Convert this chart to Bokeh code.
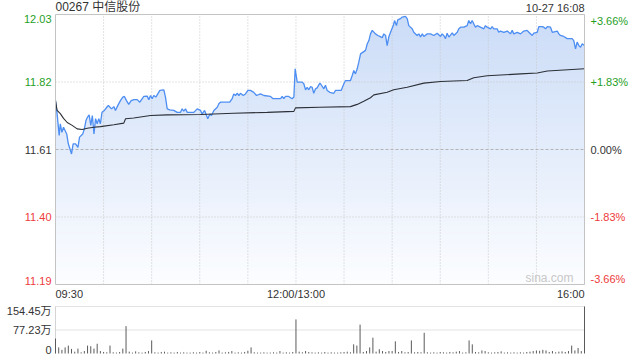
import numpy as np
from bokeh.plotting import figure
from bokeh.models import Range1d
from bokeh.embed import file_html
from bokeh.resources import INLINE
from bokeh.core.properties import value

# ---------------- data ----------------
title_text = "00267 中信股份"
stamp_text = "10-27 16:08"
prev_close = 11.61
price_lo, price_hi = 11.185, 12.035
session_end = 330          # minutes of trading, 09:30-12:00 + 13:00-16:00

# minutes since 09:30 (lunch break removed), price in HKD
price_t = [0, 1, 2.3, 3, 4, 5, 7, 8, 10, 11,
           12.5, 14, 15, 17, 18, 19, 20, 21, 22, 23,
           24, 25, 26, 27, 28, 29, 30.5, 32, 33, 34,
           35, 36.4, 37.4, 38.9, 40.5, 42, 43, 44.3, 45.7, 47.2,
           48.9, 51, 52.6, 54.1, 55.1, 57.2, 58.2, 59.3, 60.3, 61.3,
           62.6, 63.8, 65.1, 67.6, 68.6, 69.7, 71.3, 73.8, 75.9, 78,
           79, 80, 81.1, 82.2, 84.2, 86.3, 88.4, 90.5, 91.5, 93,
           94.2, 95, 96.3, 97.3, 98.8, 100.9, 101.9, 102.9, 108.7, 110.2,
           111.2, 112.3, 113.3, 114.4, 115.4, 117.1, 118.5, 120, 121.6, 123.7,
           125.4, 127.9, 130, 134.1, 135.8, 140.4, 141.4, 142.4, 143.5, 145.5,
           147.6, 148.7, 149.5, 150.8, 153.9, 154.9, 156, 157, 158, 159.1,
           160.1, 161.1, 162.2, 163.2, 164.9, 165.3, 167.4, 168.4, 169.5, 171.1,
           173.6, 174.7, 178.2, 179.9, 180.9, 184, 185.1, 186.1, 187.1, 188.2,
           189.2, 190.3, 193.4, 194.5, 195.5, 196.5, 197.6, 199.6, 201.1, 202.3,
           203.8, 204.8, 205.9, 206.9, 207.9, 209, 210.7, 211.5, 212.7, 213.5,
           215.2, 216.3, 218.3, 219.4, 220.4, 222.5, 223.5, 225.6, 226.7, 227.7,
           228.8, 229.8, 231.9, 233.9, 236, 238.1, 240.2, 241.2, 242.2, 243.3,
           244.3, 245.4, 247.5, 248.5, 250.6, 251.6, 252.7, 254.7, 256.8, 257.8,
           258.9, 259.9, 260.9, 262, 263.1, 265.1, 267.2, 268.2, 269.3, 271.4,
           272.4, 273.4, 275.5, 276.5, 277.6, 279.7, 281.8, 283.8, 284.9, 285.9,
           288, 290.1, 292.1, 294.2, 295.3, 297.4, 298.4, 300.5, 301.5, 303.6,
           304.6, 305.7, 306.8, 308.8, 309.9, 313, 314, 315, 317.1, 319.2,
           322.3, 323.3, 324.4, 325.4, 326.5, 327.5, 328.6, 330]
price_v = [11.764, 11.722, 11.654, 11.691, 11.664, 11.680, 11.659, 11.628, 11.596, 11.628,
           11.628, 11.617, 11.649, 11.659, 11.675, 11.701, 11.712, 11.719, 11.686, 11.717,
           11.659, 11.707, 11.691, 11.707, 11.691, 11.727, 11.733, 11.743, 11.749, 11.743,
           11.738, 11.745, 11.733, 11.749, 11.764, 11.775, 11.777, 11.764, 11.752, 11.764,
           11.767, 11.767, 11.759, 11.770, 11.777, 11.778, 11.767, 11.780, 11.770, 11.780,
           11.775, 11.785, 11.796, 11.798, 11.775, 11.738, 11.735, 11.733, 11.727, 11.727,
           11.738, 11.731, 11.738, 11.727, 11.727, 11.727, 11.738, 11.733, 11.722, 11.733,
           11.717, 11.707, 11.722, 11.717, 11.733, 11.743, 11.754, 11.759, 11.759, 11.770,
           11.785, 11.780, 11.787, 11.780, 11.787, 11.780, 11.785, 11.796, 11.796, 11.790,
           11.780, 11.785, 11.780, 11.777, 11.770, 11.770, 11.777, 11.770, 11.777, 11.777,
           11.770, 11.775, 11.864, 11.822, 11.822, 11.817, 11.798, 11.806, 11.798, 11.808,
           11.806, 11.787, 11.801, 11.804, 11.819, 11.817, 11.801, 11.812, 11.796, 11.790,
           11.787, 11.796, 11.796, 11.817, 11.827, 11.827, 11.843, 11.859, 11.848, 11.864,
           11.885, 11.911, 11.922, 11.943, 11.953, 11.974, 11.985, 11.974, 11.969, 11.966,
           11.962, 11.974, 11.969, 11.937, 11.964, 11.979, 12.000, 12.016, 12.000, 12.018,
           12.022, 12.027, 12.029, 12.022, 12.000, 11.990, 11.979, 11.969, 11.974, 11.964,
           11.974, 11.966, 11.974, 11.974, 11.969, 11.976, 11.966, 11.974, 11.969, 11.959,
           11.976, 11.964, 11.977, 11.969, 11.979, 11.990, 11.995, 11.995, 12.000, 12.016,
           12.006, 12.016, 12.006, 11.995, 12.000, 11.995, 11.990, 12.000, 11.995, 11.990,
           11.997, 11.990, 11.990, 11.979, 11.983, 11.979, 11.983, 11.974, 11.985, 11.974,
           11.979, 11.974, 11.983, 11.985, 11.979, 11.969, 11.976, 11.979, 11.997, 11.997,
           11.995, 11.990, 11.997, 11.995, 11.979, 11.983, 11.974, 11.969, 11.966, 11.959,
           11.959, 11.953, 11.927, 11.948, 11.937, 11.932, 11.943, 11.937]

avg_t = [0, 1, 3, 5, 7.3, 10.4, 13.5, 16.7, 19.8, 23.9,
         28.1, 36.4, 42.6, 43.7, 48.8, 59.3, 69.7, 90.5, 111.2, 132.1,
         148.7, 149.7, 164.9, 184, 188.2, 192.3, 196.5, 198.6, 206.9, 211,
         219.4, 229.8, 240.2, 256.8, 260.9, 269.3, 290.1, 300.5, 306.8, 330]
avg_v = [11.764, 11.733, 11.723, 11.708, 11.695, 11.686, 11.675, 11.673, 11.677, 11.680,
         11.682, 11.688, 11.693, 11.707, 11.709, 11.717, 11.719, 11.720, 11.724, 11.727,
         11.730, 11.741, 11.743, 11.745, 11.752, 11.762, 11.773, 11.782, 11.790, 11.798,
         11.806, 11.819, 11.824, 11.827, 11.836, 11.842, 11.848, 11.851, 11.857, 11.864]

# volume (万股), one bar every 2 minutes
vol_t = list(range(0, 331, 2))
vol_v = [49, 20, 12, 20, 26, 15, 6, 16, 4, 8,
         26, 24, 16, 32, 8, 5, 4, 26, 4, 3,
         5, 16, 90, 6, 3, 7, 4, 3, 5, 8,
         43, 4, 3, 5, 6, 3, 4, 3, 5, 3,
         4, 3, 3, 4, 3, 5, 3, 9, 4, 3,
         5, 10, 3, 4, 5, 8, 3, 4, 3, 5,
         9, 20, 4, 3, 3, 4, 3, 3, 4, 3,
         8, 3, 4, 3, 5, 112, 6, 4, 8, 5,
         4, 3, 4, 3, 5, 3, 4, 3, 3, 4,
         5, 6, 4, 30, 26, 95, 5, 8, 20, 52,
         6, 14, 8, 5, 8, 8, 40, 5, 8, 4,
         5, 43, 4, 5, 4, 68, 4, 3, 4, 3,
         5, 4, 3, 5, 4, 6, 8, 3, 4, 43,
         30, 5, 4, 10, 8, 4, 3, 4, 5, 7,
         3, 4, 3, 4, 3, 4, 3, 5, 6, 8,
         10, 9, 12, 10, 5, 8, 4, 6, 7, 5,
         8, 26, 10, 18, 8, 154.45]

time_grid = [30, 60, 90, 120, 150, 180, 210, 240, 270, 300]
time_labels = [(0, "09:30", "left"), (150, "12:00/13:00", "center"), (330, "16:00", "right")]
price_ticks = [12.035, 11.8225, 11.61, 11.3975, 11.185]
price_tick_labels = ["12.03", "11.82", "11.61", "11.40", "11.19"]
pct_tick_labels = ["+3.66%", "+1.83%", "0.00%", "-1.83%", "-3.66%"]
vol_max = 154.45
vol_ticks = [154.45, 77.23, 0]
vol_tick_labels = ["154.45万", "77.23万", "0"]

# ---------------- layout (pixels) ----------------
W, H = 640, 360
FL, FR = 55, 584          # plot frame left/right
PT, PB = 14, 284          # price frame top/bottom
VT, VB = 306, 353         # volume panel top/bottom

ppm = (FR - FL) / session_end
ppu = (PB - PT) / (price_hi - price_lo)
vpu = (VB - VT) / vol_max
x_rng = Range1d(0 - FL / ppm, session_end + (W - FR) / ppm)
y_rng = Range1d(price_lo - (H - PB) / ppu, price_hi + PT / ppu)
v_rng = Range1d(0 - (H - VB) / vpu, vol_max + VT / vpu)

FONT = "Liberation Sans, Noto Sans CJK SC, sans-serif"
GREEN = "#1fa01f"
RED = "#ee3b3b"
DARK = "#333333"
GRID = "#c6c6c6"
BLUE = "#4d8ef2"

p = figure(width=W, height=H, x_range=x_rng, y_range=y_rng,
           x_axis_type=None, y_axis_type=None, output_backend="svg", toolbar_location=None,
           min_border=0)
p.min_border_left = p.min_border_right = p.min_border_top = p.min_border_bottom = 0
p.extra_y_ranges = {"vol": v_rng}
p.outline_line_color = None
p.background_fill_color = "white"
p.border_fill_color = "white"
p.grid.visible = False

# gradient background inside price frame, then mask above the price line with white
nb = 60
edges = np.linspace(price_lo, price_hi, nb + 1)
top_c = np.array([203, 220, 247])
bot_c = np.array([252, 253, 255])
cols = []
for i in range(nb):
    f = (i + 0.5) / nb
    c = bot_c + (top_c - bot_c) * f
    cols.append("#%02x%02x%02x" % tuple(int(round(q)) for q in c))
bh = edges[1] - edges[0]
tops = np.minimum(edges[:-1] + bh * 1.3, price_hi)
p.quad(left=0, right=session_end, bottom=edges[:-1], top=tops, fill_color=cols, line_color=None)
p.varea(x=price_t, y1=price_v, y2=price_hi, fill_color="white")

# grid
p.segment(x0=time_grid, y0=price_lo, x1=time_grid, y1=price_hi,
          line_color=GRID, line_width=1, line_dash="1 2")
p.segment(x0=0, y0=[11.8225, 11.3975], x1=session_end, y1=[11.8225, 11.3975],
          line_color=GRID, line_width=1, line_dash="1 2")
p.segment(x0=0, y0=prev_close, x1=session_end, y1=prev_close,
          line_color="#b4b4b4", line_width=1, line_dash="3 2")

p.line(price_t, price_v, line_color=BLUE, line_width=1.3)
p.line(avg_t, avg_v, line_color="#2b2f36", line_width=1.1)

# frame border
p.quad(left=0, right=session_end, bottom=price_lo, top=price_hi,
       fill_color=None, line_color="#c4c4c4", line_width=1)

def lab(x, y, text, color, align, baseline, xo=0, yo=0, size="11px", rng="default"):
    p.text(x=[x], y=[y], text=[text], text_color=color, text_align=align,
           text_baseline=baseline, x_offset=xo, y_offset=yo,
           text_font=value(FONT), text_font_size=size, y_range_name=rng)

for yv, lt, pt in zip(price_ticks, price_tick_labels, pct_tick_labels):
    if yv > prev_close + 1e-9:
        c = GREEN
    elif yv < prev_close - 1e-9:
        c = RED
    else:
        c = DARK
    if yv == price_hi:
        bl = "top"
    elif yv == price_lo:
        bl = "bottom"
    else:
        bl = "middle"
    lab(0, yv, lt, c, "right", bl, xo=-4)
    lab(session_end, yv, pt, c, "left", bl, xo=6)

for t, s, al in time_labels:
    lab(t, price_lo, s, DARK, al, "top", yo=3)

lab(0, price_hi, title_text, DARK, "left", "bottom", yo=-1, size="12px")
lab(session_end, price_hi, stamp_text, DARK, "right", "bottom", yo=-1, size="11px")
lab(session_end, price_lo, "sina.com", "#c8c8c8", "right", "bottom", xo=-11, size="12px")

# ---------------- volume panel ----------------
p.segment(x0=0, y0=[vol_max, 77.23], x1=session_end, y1=[vol_max, 77.23],
          line_color=GRID, line_width=1, line_dash="1 1", y_range_name="vol")
p.segment(x0=0, y0=0, x1=0, y1=vol_max, line_color="#d4d4d4", line_width=1, y_range_name="vol")
p.segment(x0=vol_t, y0=0, x1=vol_t, y1=vol_v, line_color="#5a5a5a", line_width=1,
          y_range_name="vol")

for yv, s in zip(vol_ticks, vol_tick_labels):
    if yv == vol_max:
        bl, yo = "top", -2
    elif yv == 0:
        bl, yo = "bottom", 0
    else:
        bl, yo = "middle", 0
    lab(0, yv, s, DARK, "right", bl, xo=-4, yo=yo, rng="vol")

open("out.html", "w").write(file_html(p, INLINE))
